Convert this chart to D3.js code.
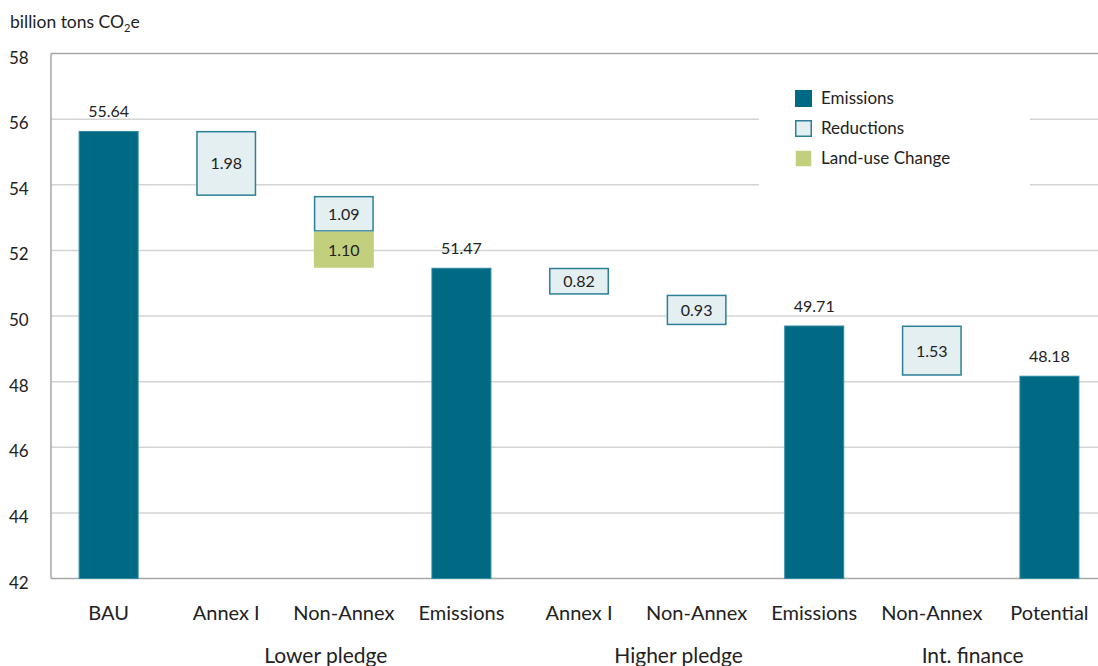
<!DOCTYPE html>
<html>
<head>
<meta charset="utf-8">
<script src="https://cdn.jsdelivr.net/npm/d3@7"></script>
<style>
  html, body { margin: 0; padding: 0; background: #fff; }
  svg { display: block; }
  text { font-family: Lato, "Open Sans", sans-serif; fill: #222; }
</style>
</head>
<body>
<svg id="chart" width="1098" height="666"></svg>
<script>
// ---- data ----
const categories = ["BAU", "Annex I", "Non-Annex", "Emissions", "Annex I", "Non-Annex", "Emissions", "Non-Annex", "Potential"];
const kinds      = ["total", "reduction", "reduction", "total", "reduction", "reduction", "total", "reduction", "total"];
const values     = [55.64, 1.98, 1.09, 51.47, 0.82, 0.93, 49.71, 1.53, 48.18];
const landUse    = [0, 0, 1.10, 0, 0, 0, 0, 0, 0];
const groups     = [
  { label: "Lower pledge", from: 1, to: 3 },
  { label: "Higher pledge", from: 4, to: 6 },
  { label: "Int. finance", from: 7, to: 8 }
];
const yTicks = [42, 44, 46, 48, 50, 52, 54, 56, 58];
const legendItems = ["Emissions", "Reductions", "Land-use Change"];

// ---- styles ----
const C = {
  emission: "#006a85",
  emissionEdge: "#2f89a2",
  reduction: "#e4eff1",
  reductionEdge: "#2c7f97",
  land: "#c2cf7d",
  grid: "#d3d3d3",
  axis: "#a8a8a8"
};

const svg = d3.select("#chart");
const x0 = 51, yTop = 53.5, yBot = 578.5;
const step = 117.6;
const x = d3.scaleBand()
  .domain(d3.range(categories.length))
  .range([x0, x0 + step * 8.98])
  .paddingInner(0.49)
  .paddingOuter(0.235);
const y = d3.scaleLinear().domain([42, 58]).range([yBot, yTop]);

// gridlines
svg.append("g").selectAll("line")
  .data(yTicks.filter(t => t !== 42 && t !== 58))
  .join("line")
  .attr("x1", x0).attr("x2", 1098)
  .attr("y1", d => y(d)).attr("y2", d => y(d))
  .attr("stroke", C.grid).attr("stroke-width", 1.5);

// frame: top, left, bottom
svg.append("line").attr("x1", x0).attr("x2", 1098).attr("y1", y(58)).attr("y2", y(58))
  .attr("stroke", C.axis).attr("stroke-width", 1.5);
svg.append("line").attr("x1", x0).attr("x2", 1098).attr("y1", y(42)).attr("y2", y(42))
  .attr("stroke", C.axis).attr("stroke-width", 1.5);
svg.append("line").attr("x1", x0).attr("x2", x0).attr("y1", y(58)).attr("y2", y(42))
  .attr("stroke", C.axis).attr("stroke-width", 1.5);

// y tick labels
svg.append("g").selectAll("text")
  .data(yTicks).join("text")
  .attr("x", 9).attr("y", d => y(d) + 10)
  .attr("font-size", 17)
  .text(d => d);

// axis title
const title = svg.append("text").attr("x", 10).attr("y", 28).attr("font-size", 17.5);
title.append("tspan").text("billion tons CO");
title.append("tspan").attr("font-size", 11).attr("dy", 4).text("2");
title.append("tspan").attr("dy", -4).text("e");

// waterfall segments
let level = 0;
const segs = [];
values.forEach((v, i) => {
  if (kinds[i] === "total") {
    segs.push({ i, type: "emission", top: v, bottom: 42, label: v.toFixed(2) });
    level = v;
  } else {
    segs.push({ i, type: "reduction", top: level, bottom: level - v, label: v.toFixed(2) });
    level = level - v;
    if (landUse[i] > 0) {
      segs.push({ i, type: "land", top: level, bottom: level - landUse[i], label: landUse[i].toFixed(2) });
      level = level - landUse[i];
    }
  }
});

const bw = x.bandwidth();
const gBars = svg.append("g");
segs.forEach(s => {
  const xx = x(s.i), yt = y(s.top), yb = y(s.bottom);
  if (s.type === "emission") {
    gBars.append("rect").attr("x", xx + 0.5).attr("y", yt + 0.5)
      .attr("width", bw - 1).attr("height", yb - yt - 0.5)
      .attr("fill", C.emission).attr("stroke", C.emissionEdge).attr("stroke-width", 1);
    gBars.append("text").attr("x", xx + bw / 2).attr("y", yt - 14)
      .attr("text-anchor", "middle").attr("font-size", 16).text(s.label);
  } else if (s.type === "reduction") {
    gBars.append("rect").attr("x", xx + 0.75).attr("y", yt + 0.75)
      .attr("width", bw - 1.5).attr("height", yb - yt - 1.5)
      .attr("fill", C.reduction).attr("stroke", C.reductionEdge).attr("stroke-width", 1.5);
    gBars.append("text").attr("x", xx + bw / 2).attr("y", (yt + yb) / 2 + 6)
      .attr("text-anchor", "middle").attr("font-size", 16).text(s.label);
  } else {
    gBars.append("rect").attr("x", xx).attr("y", yt)
      .attr("width", bw).attr("height", yb - yt)
      .attr("fill", C.land);
    gBars.append("text").attr("x", xx + bw / 2).attr("y", (yt + yb) / 2 + 6)
      .attr("text-anchor", "middle").attr("font-size", 16).text(s.label);
  }
});

// category labels
svg.append("g").selectAll("text")
  .data(categories).join("text")
  .attr("x", (d, i) => x(i) + bw / 2)
  .attr("y", 620)
  .attr("text-anchor", "middle")
  .attr("font-size", 20)
  .text(d => d);

// group labels
svg.append("g").selectAll("text")
  .data(groups).join("text")
  .attr("x", g => (x(g.from) + x(g.to) + bw) / 2 - 18)
  .attr("y", 663)
  .attr("text-anchor", "middle")
  .attr("font-size", 21)
  .text(g => g.label);

// legend
const lg = svg.append("g");
lg.append("rect").attr("x", 759).attr("y", 66).attr("width", 271).attr("height", 128).attr("fill", "#fff");
const legendFill = [C.emission, C.reduction, C.land];
const legendStroke = [C.emission, C.reductionEdge, "none"];
legendItems.forEach((name, k) => {
  const yy = 90 + k * 30;
  lg.append("rect").attr("x", 795.75).attr("y", yy + 0.75).attr("width", 15.5).attr("height", 15.5)
    .attr("fill", legendFill[k]).attr("stroke", legendStroke[k]).attr("stroke-width", 1.5);
  lg.append("text").attr("x", 821).attr("y", yy + 14).attr("font-size", 17).text(name);
});
</script>
</body>
</html>
